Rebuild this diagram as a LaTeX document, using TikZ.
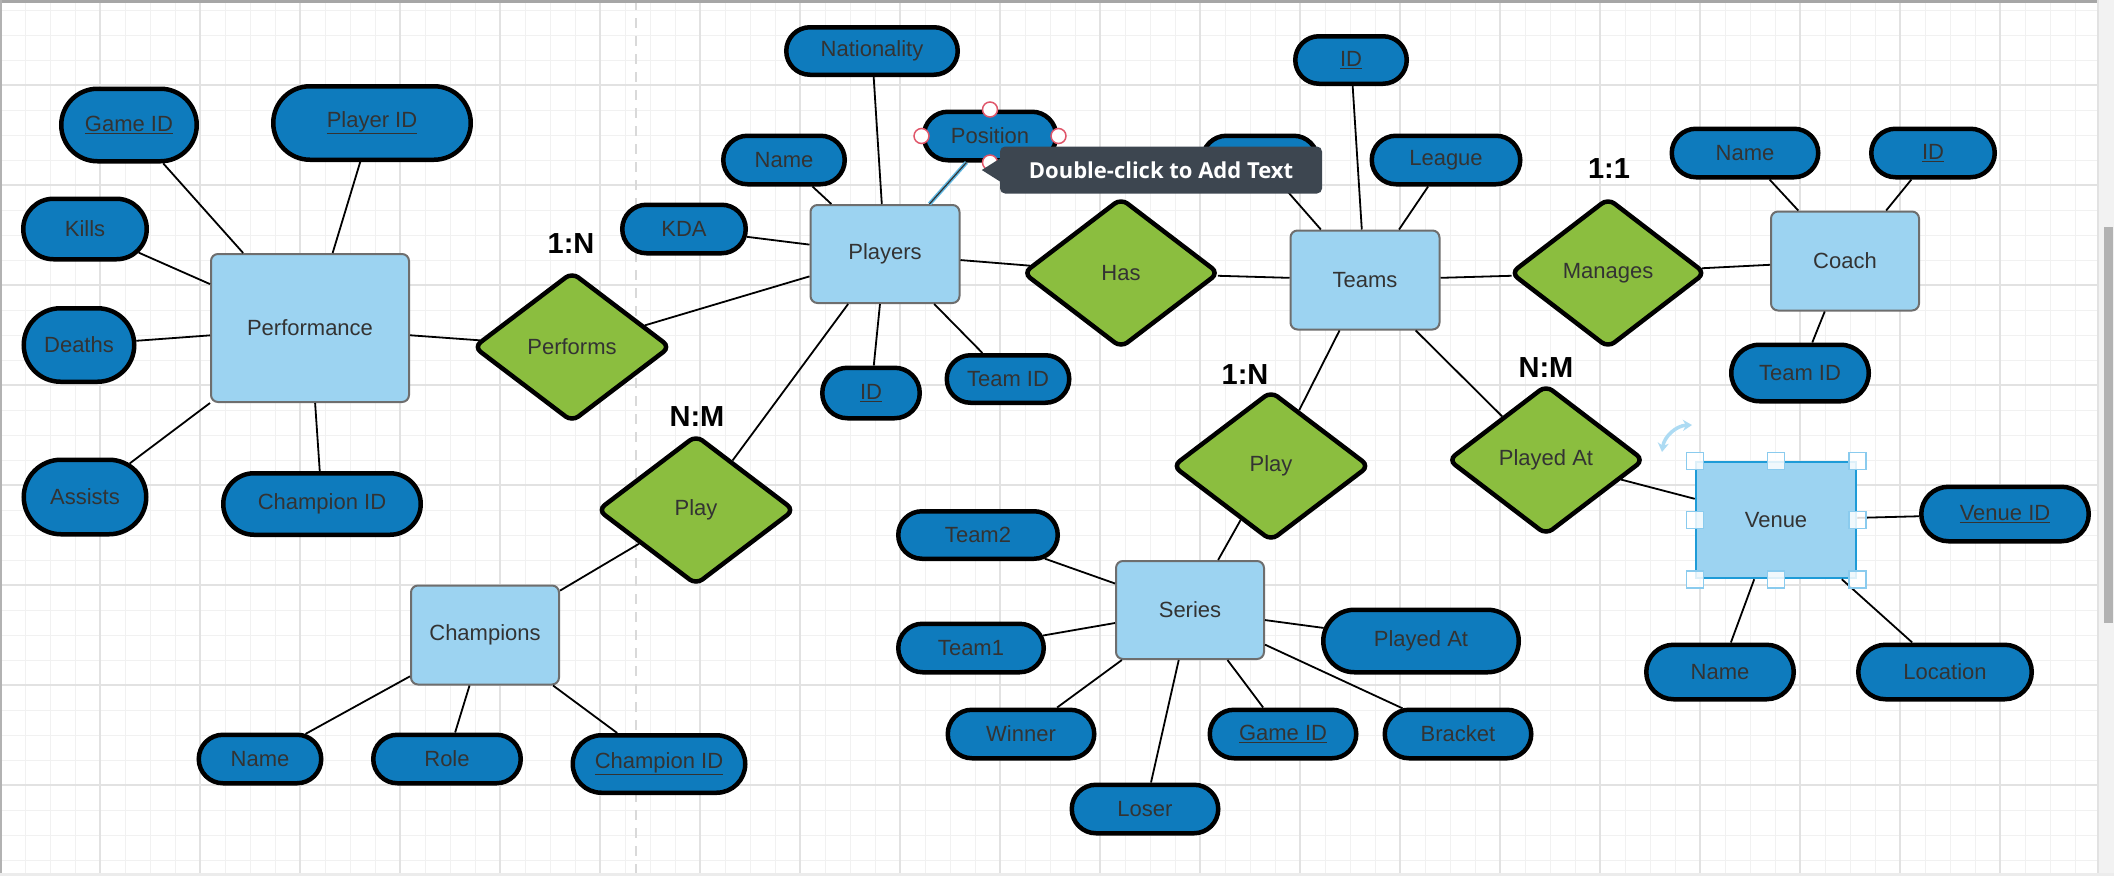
\documentclass[tikz,border=0pt]{standalone}
\usepackage{fontspec}
\setmainfont{Liberation Sans}
\newfontfamily\tipfamily{Open Sans}
\usetikzlibrary{shapes.geometric,shapes.misc,arrows.meta}

\definecolor{attrblue}{HTML}{0E7BBD}
\definecolor{entblue}{HTML}{9CD3F1}
\definecolor{entedge}{HTML}{6E6E6E}
\definecolor{relgreen}{HTML}{8BBE3F}
\definecolor{txtgray}{HTML}{333333}
\definecolor{gridminor}{HTML}{F1F1F1}
\definecolor{gridmajor}{HTML}{E2E2E2}
\definecolor{tipgray}{HTML}{3D4650}
\definecolor{selblue}{HTML}{1E9BD7}
\definecolor{handleblue}{HTML}{8ACBEE}
\definecolor{gripred}{HTML}{E0566A}

\newcommand\erfont{\fontsize{22}{26}\selectfont}
\newcommand\cardfont{\fontsize{29}{34}\selectfont\bfseries}
\newcommand\tipfont{\tipfamily\fontsize{22}{26}\selectfont\bfseries}

\begin{document}
\begin{tikzpicture}[x=1pt,y=-1pt,
    every node/.style={font=\erfont},
    attr/.style={rounded rectangle, draw=black, line width=4.5pt, fill=attrblue, text=txtgray, inner sep=0pt},
    entity/.style={rectangle, rounded corners=7pt, draw=entedge, line width=2pt, fill=entblue, text=txtgray, inner sep=0pt},
    rel/.style={diamond, aspect=1.32, rounded corners=8pt, draw=black, line width=4.5pt, fill=relgreen, text=txtgray, inner sep=0pt},
    wh/.style 2 args={minimum width={#1pt-4.5pt}, minimum height={#2pt-4.5pt}},
    card/.style={font=\cardfont, text=black},
    link/.style={line width=1.8pt, black},
    selhandle/.style={rectangle, draw=handleblue, line width=1.5pt, fill=white, fill opacity=0.85, minimum size=17pt, inner sep=0pt},
    grip/.style={circle, draw=gripred, line width=1.5pt, fill=white, minimum size=15pt, inner sep=0pt},
    tipbox/.style={rectangle, rounded corners=5pt, fill=tipgray, text=white, font=\tipfont, minimum width=322pt, minimum height=47pt, inner sep=0pt}]
  \useasboundingbox (0,0) rectangle (2114,876);
  \fill[white] (0,0) rectangle (2114,876);
  \foreach \gx in {0,25,...,2100}
    \draw[gridminor, line width=1pt] (\gx,0) -- (\gx,876);
  \foreach \gy in {10,35,...,860}
    \draw[gridminor, line width=1pt] (0,\gy) -- (2098,\gy);
  \foreach \gx in {100,200,...,2000}
    \draw[gridmajor, line width=1.2pt] (\gx,0) -- (\gx,876);
  \foreach \gy in {85,185,...,785}
    \draw[gridmajor, line width=1.2pt] (0,\gy) -- (2098,\gy);
  \draw[gray!30, line width=2pt, dash pattern=on 10pt off 8pt] (636,0) -- (636,876);
  \fill[gray!70] (0,0) rectangle (2114,3);
  \fill[gray!60] (0,0) rectangle (2,876);
  \fill[gray!10] (2098,0) rectangle (2114,876);
  \draw[gridmajor, line width=1.5pt] (2098,0) -- (2098,876);
  \fill[gray!60] (2104,227) rectangle (2113,623);
  \fill[gray!15] (0,873) rectangle (2114,876);

  \node[entity, minimum width=198pt, minimum height=148pt] (perf) at (310,328) {Performance};
  \node[entity, minimum width=149pt, minimum height=98pt] (players) at (885,254) {Players};
  \node[entity, minimum width=149pt, minimum height=99pt] (teams) at (1365,280) {Teams};
  \node[entity, minimum width=148pt, minimum height=99pt] (coach) at (1845,261) {Coach};
  \node[entity, minimum width=148pt, minimum height=99pt] (champs) at (485,635) {Champions};
  \node[entity, minimum width=148pt, minimum height=98pt] (series) at (1190,610) {Series};
  \node[rectangle, draw=selblue, line width=2.5pt, fill=entblue, text=txtgray, minimum width=160pt, minimum height=116pt] (venue) at (1776,520) {Venue};

  \node[rel, wh={202}{155}] (performs) at (572,347) {Performs};
  \node[rel, wh={201}{155}] (has) at (1121,273) {Has};
  \node[rel, wh={200}{155}] (manages) at (1608,273) {Manages};
  \node[rel, wh={202}{155}] (playch) at (696,510) {Play};
  \node[rel, wh={202}{155}] (playse) at (1271,466) {Play};
  \node[rel, wh={201}{155}] (playedat) at (1546,460) {Played At};

  \node[attr, wh={140}{77}] (pgame) at (129,125) {\underline{Game ID}};
  \node[attr, wh={202}{78}] (pplayer) at (372,123) {\underline{Player ID}};
  \node[attr, wh={128}{65}] (pkills) at (85,229) {Kills};
  \node[attr, wh={115}{78}] (pdeaths) at (79,345) {Deaths};
  \node[attr, wh={127}{79}] (passists) at (85,497) {Assists};
  \node[attr, wh={202}{66}] (pchamp) at (322,504) {Champion ID};
  \node[attr, wh={176}{52}] (plnat) at (872,51) {Nationality};
  \node[attr, wh={137}{53}] (plpos) at (990,136) {Position};
  \node[attr, wh={126}{53}] (plname) at (784,160) {Name};
  \node[attr, wh={128}{53}] (plkda) at (684,229) {KDA};
  \node[attr, wh={102}{55}] (plid) at (871,393) {\underline{ID}};
  \node[attr, wh={127}{52}] (plteam) at (1008,379) {Team ID};
  \node[attr, wh={120}{53}] (thidden) at (1260,160) {};
  \node[attr, wh={116}{52}] (tid) at (1351,60) {\underline{ID}};
  \node[attr, wh={153}{53}] (tleague) at (1446,160) {League};
  \node[attr, wh={151}{53}] (cname) at (1745,153) {Name};
  \node[attr, wh={128}{53}] (cid) at (1933,153) {\underline{ID}};
  \node[attr, wh={142}{61}] (cteam) at (1800,373) {Team ID};
  \node[attr, wh={127}{53}] (chname) at (260,759) {Name};
  \node[attr, wh={152}{53}] (chrole) at (447,759) {Role};
  \node[attr, wh={177}{62}] (chid) at (659,764) {\underline{Champion ID}};
  \node[attr, wh={164}{52}] (steam2) at (978,535) {Team2};
  \node[attr, wh={150}{53}] (steam1) at (971,648) {Team1};
  \node[attr, wh={200}{67}] (splayed) at (1421,641) {Played At};
  \node[attr, wh={151}{53}] (swinner) at (1021,734) {Winner};
  \node[attr, wh={151}{53}] (sgame) at (1283,734) {\underline{Game ID}};
  \node[attr, wh={151}{53}] (sbracket) at (1458,734) {Bracket};
  \node[attr, wh={151}{53}] (sloser) at (1145,809) {Loser};
  \node[attr, wh={172}{59}] (vid) at (2005,514) {\underline{Venue ID}};
  \node[attr, wh={152}{59}] (vname) at (1720,672) {Name};
  \node[attr, wh={178}{59}] (vloc) at (1945,672) {Location};

  \node[card] (cperf) at (571,244) {1:N};
  \node[card] (cplaych) at (697,417) {N:M};
  \node[card] (cplayse) at (1245,375) {1:N};
  \node[card] (cman) at (1609,169) {1:1};
  \node[card] (cplayed) at (1546,368) {N:M};

  \foreach \a in {pgame,pplayer,pkills,pdeaths,passists,pchamp,performs}
    \draw[link] (perf) -- (\a);
  \foreach \a in {performs,plnat,plname,plkda,plid,plteam,has,playch}
    \draw[link] (players) -- (\a);
  \foreach \a in {has,thidden,tid,tleague,manages,playse,playedat}
    \draw[link] (teams) -- (\a);
  \foreach \a in {manages,cname,cid,cteam}
    \draw[link] (coach) -- (\a);
  \foreach \a in {playch,chname,chrole,chid}
    \draw[link] (champs) -- (\a);
  \foreach \a in {playse,steam2,steam1,splayed,swinner,sgame,sbracket,sloser}
    \draw[link] (series) -- (\a);
  \foreach \a in {playedat,vid,vname,vloc}
    \draw[link] (venue) -- (\a);

  \draw[line width=4pt, selblue!70] (plpos) -- (players);
  \draw[line width=1.2pt, black!80] (plpos) -- (players);
  \foreach \a in {north,south,east,west}
    \node[grip] at (plpos.\a) {};
  \foreach \a in {north west,north,north east,east,south east,south,south west,west}
    \node[selhandle] at (venue.\a) {};
  \draw[handleblue!70, line width=3.5pt, {Stealth[length=9pt,width=11pt]}-{Stealth[length=9pt,width=11pt]}] (1662,452) to[bend left=40] (1692,425);

  \node[tipbox] (tip) at (1161,170) {Double-click to Add Text};
  \fill[tipgray] (tip.west) ++(1,-12) -- ++(-19,12) -- ++(19,12) -- cycle;
\end{tikzpicture}
\end{document}
